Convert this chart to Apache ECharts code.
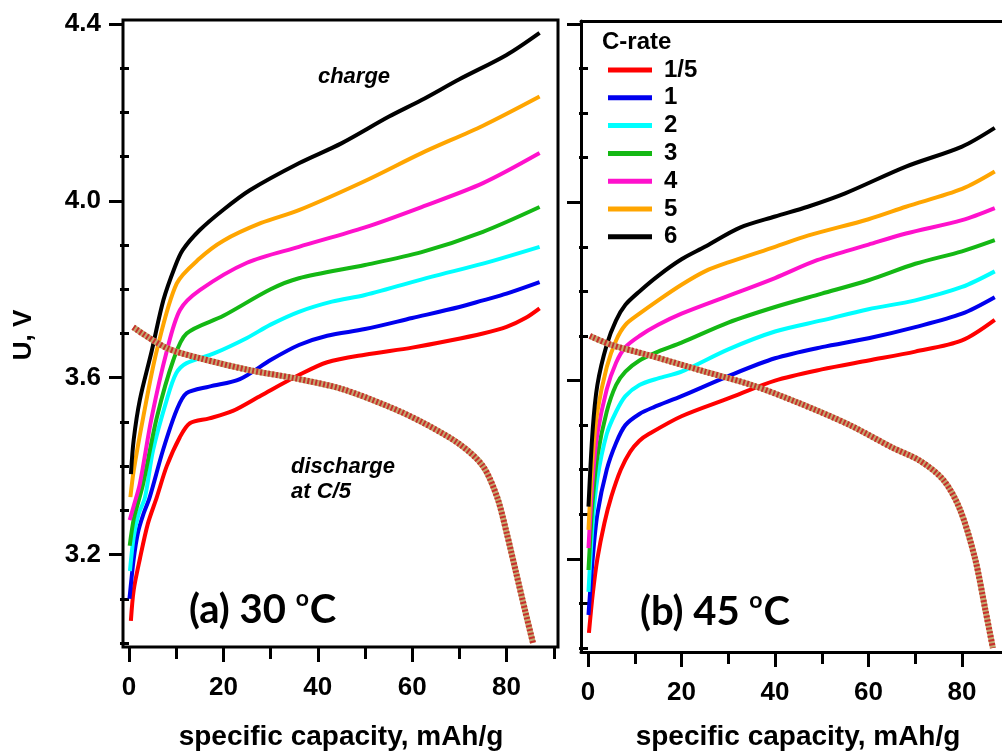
<!DOCTYPE html>
<html>
<head>
<meta charset="utf-8">
<script src="https://cdn.jsdelivr.net/npm/echarts@6/dist/echarts.min.js"></script>
<style>
html, body { margin: 0; padding: 0; background: #fff; }
#chart { width: 1002px; height: 753px; }
</style>
</head>
<body>
<div id="chart"></div>
<script>
// C-rate names (legend) and tick values
var rateNames = ['1/5', '1', '2', '3', '4', '5', '6'];
var xMajorTicks = [0, 20, 40, 60, 80];
var xMinorTicks = [10, 30, 50, 70, 90];
var yMajorTicks = [3.2, 3.6, 4.0, 4.4];
var yMinorTicks = [3.0, 3.1, 3.3, 3.4, 3.5, 3.7, 3.8, 3.9, 4.1, 4.2, 4.3];

// (a) 30 oC, charge curves [capacity mAh/g, U V]
var red30 = [[0.4,3.05],[1,3.12],[2.3,3.19],[4,3.27],[5.9,3.33],[8,3.40],[10.8,3.466],[12.9,3.497],[17,3.508],[22,3.525],[28,3.56],[36,3.606],[42,3.635],[50,3.652],[60,3.668],[68,3.684],[75,3.70],[80,3.715],[84,3.735],[87,3.757]];
var blue30 = [[0.1,3.10],[1,3.19],[1.9,3.25],[3,3.29],[4.4,3.33],[7.2,3.436],[10.1,3.527],[12.2,3.565],[17,3.58],[23.5,3.597],[30,3.64],[36,3.674],[42,3.695],[50,3.71],[60,3.735],[70,3.76],[75,3.775],[80,3.79],[87,3.816]];
var cyan30 = [[0.2,3.163],[1,3.24],[2,3.29],[3.4,3.33],[5.1,3.436],[8,3.55],[10,3.61],[12.2,3.633],[18,3.655],[25,3.69],[30,3.72],[36,3.749],[43,3.772],[50,3.787],[64,3.828],[75,3.858],[87,3.896]];
var green30 = [[0.15,3.22],[1,3.28],[2,3.32],[3,3.36],[5.9,3.51],[9.4,3.64],[12.2,3.70],[20,3.74],[30,3.80],[36,3.825],[50,3.855],[62,3.884],[75,3.93],[87,3.986]];
var pink30 = [[0.15,3.278],[1,3.31],[2.3,3.36],[4.8,3.51],[8,3.66],[10.8,3.753],[15,3.798],[25,3.86],[36,3.896],[50,3.94],[62,3.986],[75,4.04],[87,4.108]];
var orange30 = [[0.3,3.33],[1,3.39],[3,3.51],[5.9,3.662],[10.1,3.813],[15,3.87],[20,3.91],[28,3.95],[36,3.979],[50,4.045],[62,4.108],[75,4.17],[87,4.236]];
var black30 = [[0.4,3.382],[1,3.46],[2.3,3.55],[4.8,3.66],[7.3,3.776],[9.7,3.85],[11.4,3.889],[15,3.934],[20,3.98],[25.6,4.024],[36,4.085],[45,4.13],[55,4.19],[62,4.228],[70,4.275],[80,4.33],[87,4.38]];
var discharge30 = [[0.9,3.714],[8,3.667],[15,3.644],[25.6,3.617],[35,3.599],[45,3.575],[55,3.535],[62,3.50],[70,3.45],[75,3.40],[78,3.33],[80,3.25],[82,3.16],[84,3.07],[85.6,3.0]];

// (b) 45 oC
var red45 = [[0.2,3.034],[1,3.12],[2,3.2],[3.5,3.28],[5,3.34],[7,3.40],[9,3.44],[11,3.465],[13,3.48],[20,3.52],[30,3.56],[40,3.60],[50,3.625],[60,3.645],[70,3.665],[80,3.69],[87,3.736]];
var blue45 = [[0.1,3.074],[1,3.2],[2,3.3],[4,3.4],[6,3.46],[8,3.5],[11,3.525],[14,3.54],[20,3.565],[30,3.61],[40,3.65],[50,3.675],[60,3.695],[70,3.72],[80,3.75],[87,3.787]];
var cyan45 = [[0.1,3.126],[1,3.28],[2,3.38],[4,3.48],[6,3.53],[8,3.565],[11,3.59],[15,3.605],[20,3.62],[30,3.67],[40,3.71],[50,3.735],[60,3.76],[70,3.78],[80,3.81],[87,3.845]];
var green45 = [[0.1,3.175],[1,3.33],[2,3.43],[4,3.53],[6,3.59],[8,3.62],[11,3.645],[15,3.665],[20,3.685],[30,3.73],[40,3.765],[50,3.795],[60,3.825],[70,3.862],[80,3.89],[87,3.915]];
var pink45 = [[0.1,3.224],[1,3.38],[2,3.48],[4,3.58],[6,3.64],[8,3.675],[11,3.70],[15,3.725],[20,3.75],[30,3.79],[40,3.83],[49,3.87],[60,3.905],[68,3.93],[80,3.96],[87,3.987]];
var orange45 = [[0.1,3.265],[1,3.43],[2,3.53],[4,3.63],[6,3.69],[8,3.725],[11,3.75],[15,3.78],[20,3.815],[25,3.845],[30,3.865],[40,3.90],[47,3.925],[60,3.962],[68,3.99],[80,4.03],[87,4.069]];
var black45 = [[0.1,3.317],[1,3.49],[2,3.59],[4,3.68],[6,3.735],[8,3.77],[11,3.80],[15,3.835],[20,3.872],[25,3.90],[32.5,3.943],[40,3.968],[47,3.99],[55,4.02],[68,4.08],[80,4.125],[87,4.167]];
var discharge45 = [[0.4,3.70],[5,3.68],[13,3.657],[25,3.62],[35,3.59],[45,3.55],[56,3.50],[65,3.45],[71,3.42],[76,3.377],[79.6,3.31],[82.8,3.20],[85,3.085],[86.6,3.0]];

var colors = ['#ff0000', '#0000ee', '#00ffff', '#14b814', '#ff11cc', '#ffa500', '#000000'];
var tickFont = 'Liberation Sans';
var axisLineStyle = { color: '#000', width: 3 };

var chart = echarts.init(document.getElementById('chart'));

function xAxes(gridIndex, min, max, withLine) {
    return [{
        type: 'value', gridIndex: gridIndex, position: 'bottom', min: min, max: max,
        axisLine: { show: withLine, onZero: false, lineStyle: axisLineStyle },
        splitLine: { show: false },
        axisTick: { show: true, inside: false, length: 15, customValues: xMajorTicks, lineStyle: axisLineStyle },
        axisLabel: { show: true, customValues: xMajorTicks, margin: 28, color: '#000', fontFamily: tickFont, fontWeight: 'bold', fontSize: 26 }
    }, {
        type: 'value', gridIndex: gridIndex, position: 'bottom', min: min, max: max,
        axisLine: { show: false },
        splitLine: { show: false },
        axisTick: { show: true, inside: false, length: 12, customValues: xMinorTicks, lineStyle: axisLineStyle },
        axisLabel: { show: false }
    }];
}

function yAxes(gridIndex, min, max, showLabel, withLine) {
    return [{
        type: 'value', gridIndex: gridIndex, position: 'left', min: min, max: max,
        axisLine: { show: withLine, onZero: false, lineStyle: axisLineStyle },
        splitLine: { show: false },
        axisTick: { show: true, inside: false, length: 14, customValues: yMajorTicks, lineStyle: axisLineStyle },
        axisLabel: {
            show: showLabel, customValues: yMajorTicks, margin: 22, color: '#000', fontFamily: tickFont, fontWeight: 'bold', fontSize: 26,
            formatter: function (v) { return v.toFixed(1); }
        }
    }, {
        type: 'value', gridIndex: gridIndex, position: 'left', min: min, max: max,
        axisLine: { show: false },
        splitLine: { show: false },
        axisTick: { show: true, inside: false, length: 9, customValues: yMinorTicks, lineStyle: axisLineStyle },
        axisLabel: { show: false }
    }];
}

var curves30 = [red30, blue30, cyan30, green30, pink30, orange30, black30];
var curves45 = [red45, blue45, cyan45, green45, pink45, orange45, black45];

var series = [];
function addPanel(curves, discharge, axisIdx) {
    for (var i = 0; i < curves.length; i++) {
        series.push({
            type: 'line', name: rateNames[i], xAxisIndex: axisIdx, yAxisIndex: axisIdx,
            data: curves[i], showSymbol: false, symbol: 'none',
            smooth: 0.3,
            lineStyle: { color: colors[i], width: 4 },
            itemStyle: { color: colors[i] },
            z: 2 + i
        });
    }
    // discharge at C/5: hatched rope look
    series.push({
        type: 'line', name: 'discharge', xAxisIndex: axisIdx, yAxisIndex: axisIdx,
        data: discharge, showSymbol: false, symbol: 'none', smooth: 0.3,
        lineStyle: { color: '#c2a870', width: 6 }, z: 20
    });
    series.push({
        type: 'line', name: 'discharge', xAxisIndex: axisIdx, yAxisIndex: axisIdx,
        data: discharge, showSymbol: false, symbol: 'none', smooth: 0.3,
        lineStyle: { color: '#c8302c', width: 6, type: [2, 2] }, z: 21
    });
}
addPanel(curves30, discharge30, 0);
addPanel(curves45, discharge45, 2);

// right panel frame: top line only (its right side runs off the picture)
var topLine45 = {
    type: 'value', gridIndex: 1, position: 'top', min: -1.5, max: 88.55,
    axisLine: { show: true, onZero: false, lineStyle: axisLineStyle },
    axisTick: { show: false }, axisLabel: { show: false }, splitLine: { show: false }
};

var boldText = 'bold 28px Liberation Sans';
var labelFont = 'Lato';

var option = {
    animation: false,
    backgroundColor: '#fff',
    grid: [
        { left: 123, top: 20, width: 435, height: 627, show: true, borderColor: '#000', borderWidth: 3, backgroundColor: 'transparent' },
        { left: 581, top: 21, width: 421, height: 631, show: false }
    ],
    xAxis: xAxes(0, -1.27, 90.9, false).concat(xAxes(1, -1.5, 88.55, true)).concat([topLine45]),
    yAxis: yAxes(0, 2.991, 4.409, true, false).concat(yAxes(1, 2.991, 4.4067, false, true)),
    legend: {
        data: rateNames, orient: 'vertical', left: 603, top: 53,
        icon: 'rect', itemWidth: 44, itemHeight: 5, itemGap: 3.8,
        textStyle: { color: '#000', fontFamily: tickFont, fontWeight: 'bold', fontSize: 24, lineHeight: 22, padding: [0, 0, 0, 7] }
    },
    graphic: [
        { type: 'text', left: 602, top: 30, style: { text: 'C-rate', font: 'bold 24px Liberation Sans', fill: '#000' } },
        { type: 'text', x: 354, y: 77, style: { text: 'charge', font: 'italic bold 22px Liberation Sans', fill: '#000', align: 'center', verticalAlign: 'middle' } },
        { type: 'text', x: 291, y: 467, style: { text: 'discharge', font: 'italic bold 22px Liberation Sans', fill: '#000', align: 'left', verticalAlign: 'middle' } },
        { type: 'text', x: 291, y: 492, style: { text: 'at C/5', font: 'italic bold 22px Liberation Sans', fill: '#000', align: 'left', verticalAlign: 'middle' } },
        {
            type: 'text', x: 189, y: 610,
            style: {
                text: '{a|(a) 30 }{s|o}{a|C}', fill: '#000', verticalAlign: 'middle',
                rich: {
                    a: { fontFamily: labelFont, fontWeight: 'bold', fontSize: 40, lineHeight: 46 },
                    s: { fontFamily: labelFont, fontWeight: 'bold', fontSize: 23, lineHeight: 46, verticalAlign: 'top', padding: [0, 1, 0, 0] }
                }
            }
        },
        {
            type: 'text', x: 640, y: 612,
            style: {
                text: '{a|(b) 45 }{s|o}{a|C}', fill: '#000', verticalAlign: 'middle',
                rich: {
                    a: { fontFamily: labelFont, fontWeight: 'bold', fontSize: 40, lineHeight: 46 },
                    s: { fontFamily: labelFont, fontWeight: 'bold', fontSize: 23, lineHeight: 46, verticalAlign: 'top', padding: [0, 1, 0, 0] }
                }
            }
        },
        { type: 'text', x: 24, y: 335, rotation: Math.PI / 2, style: { text: 'U, V', font: 'bold 26px Liberation Sans', fill: '#000', align: 'center', verticalAlign: 'middle' } },
        { type: 'text', x: 341, y: 737, style: { text: 'specific capacity, mAh/g', font: boldText, fill: '#000', align: 'center', verticalAlign: 'middle' } },
        { type: 'text', x: 798, y: 737, style: { text: 'specific capacity, mAh/g', font: boldText, fill: '#000', align: 'center', verticalAlign: 'middle' } }
    ],
    series: series
};

chart.setOption(option);
</script>
</body>
</html>
